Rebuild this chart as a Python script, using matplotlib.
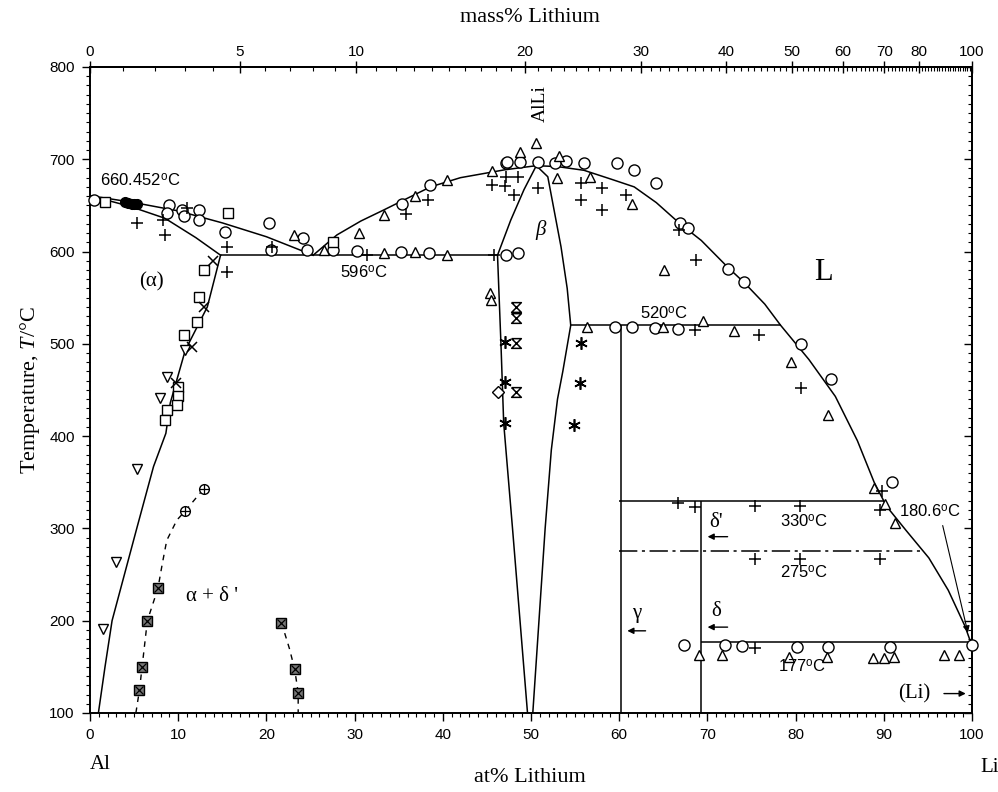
import numpy as np
import matplotlib
matplotlib.use("Agg")
import matplotlib.pyplot as plt
from matplotlib.ticker import MultipleLocator, FixedLocator, NullFormatter

plt.rcParams['font.family'] = ['Liberation Sans', 'DejaVu Sans']
plt.rcParams['mathtext.fontset'] = 'custom'
plt.rcParams['mathtext.rm'] = 'Liberation Serif'
plt.rcParams['mathtext.it'] = 'Liberation Serif:italic'
plt.rcParams['mathtext.sf'] = 'Liberation Sans'

SERIF = ['Liberation Serif', 'DejaVu Serif']

# phase boundaries (at% Li, temperature in C)
liq_al_x = [0, 5, 10, 15, 20, 25.3]
liq_al_t = [660.452, 653, 644, 631, 616, 596]
sol_al_x = [0, 4.5, 8.5, 12, 14.8]
sol_al_t = [660.452, 649, 636, 615, 596]
solvus_al_x = [14.8, 13.3, 10.8, 9.1, 8.6, 7.2, 5.3, 2.5, 1.7, 0.95]
solvus_al_t = [596, 540, 493, 436, 403, 367, 300, 200, 150, 100]
liq_mid_x = [25.3, 28, 30.7, 33.3, 35.2, 38.6, 42, 47, 50.6]
liq_mid_t = [596, 618, 633, 645, 654, 670, 680, 688.5, 693]
liq_li_x = [50.6, 53, 56, 59.2, 61.7, 64.2, 66.9, 69.3, 72.3, 74.2, 76.5, 78.3,
            81.5, 84.5, 87, 88.9, 90.3, 92.5, 95.1, 97.3, 99.2, 99.7]
liq_li_t = [693, 692, 688, 678, 670, 653, 630, 612, 583, 566, 543, 520,
            483, 443, 395, 350, 324, 298, 268, 233, 194, 180.6]
beta_left_x = [50.6, 49.2, 47.7, 46.2, 46.6, 46.9, 47.9, 49.6]
beta_left_t = [693, 667, 634, 596, 497, 414, 300, 100]
beta_right_x = [50.6, 51.9, 53.4, 54.1, 54.5, 53.6, 53.0, 52.3, 51.6, 50.9, 50.2]
beta_right_t = [693, 681, 605, 560, 520, 470, 440, 385, 300, 200, 100]
dash_left_x = [5.2, 5.6, 5.9, 6.5, 7.7, 8.2, 8.7, 9.85, 10.8, 12.9]
dash_left_t = [100, 124.5, 149.6, 200, 235, 262, 287, 309, 319, 343]
dash_right_x = [21.7, 22.6, 23.2, 23.6, 23.6]
dash_right_t = [198, 170, 147.5, 122, 100]

# invariant temperatures and their extent
eut_t, eut_x = 596, (14.8, 46.2)
per_t, per_x = 520, (54.5, 78.3)
g_t, g_x = 330, (60.0, 90.0)
dd_t, dd_x = 275, (60.0, 94.6)
li_t, li_x = 177, (69.3, 99.7)
gamma_x, delta_x = 60.2, 69.3

# experimental points
circ_x = [0.5, 8.9, 8.7, 10.4, 10.6, 12.3, 12.3, 15.3, 20.3, 20.5, 24.2, 24.6, 27.6,
          30.3, 35.3, 38.4, 47.2, 48.5, 35.4, 38.5, 47.2, 47.3, 48.7, 50.8, 52.7, 54,
          56, 59.8, 61.7, 64.2, 66.9, 67.8, 72.3, 74.2, 80.6, 84, 90.9, 59.5, 61.4,
          64, 66.7, 67.3, 72, 73.9, 80.2, 83.7, 90.7, 100]
circ_t = [656, 650.5, 642, 645, 638, 645, 634, 621.6, 631, 601.7, 614.4, 601.7, 601.7,
          601, 600, 598, 596, 598, 651.6, 672, 696, 697.4, 697.4, 697.4, 696.3, 698,
          696.3, 696.3, 688.4, 674, 630.7, 625, 581, 567.4, 499.9, 461.6, 350, 518.6, 518.6,
          517, 515.8, 174, 174, 173, 172, 172, 171.2, 174]
fcirc_x = [4.0, 4.3, 4.8, 5.0, 5.3]
fcirc_t = [654, 653, 652, 651.5, 651]
sq_x = [1.7, 15.7, 27.6, 12.9, 12.3, 12.1, 10.6, 10.0, 10.0, 9.85, 8.7, 8.5]
sq_t = [654, 641.5, 610.7, 580, 551, 524, 509.6, 453.6, 443, 434, 428.4, 417.6]
tri_x = [23.1, 26.5, 30.5, 33.3, 36.9, 40.5, 45.6, 33.3, 36.8, 40.5, 50.6, 48.7, 53.2,
         56.7, 53, 61.4, 65.1, 45.3, 45.5, 56.4, 65, 69.5, 73, 79.5, 83.7, 88.9, 90.1,
         91.3, 69, 71.7, 79.2, 83.5, 88.8, 90, 91.1, 96.8, 98.5]
tri_t = [618, 601.7, 620.5, 639.7, 660, 677.6, 687.6, 598, 600, 596, 717.3, 708, 703.6,
         681, 679.4, 652, 580, 554.8, 547.6, 518.6, 518.6, 525, 513.4, 480, 423, 344.2, 326.5,
         305.6, 163, 163, 161, 160.4, 159.4, 159.4, 161, 163, 163]
plus_x = [5.3, 8.5, 8.3, 11, 15.5, 15.5, 20.6, 31.4, 45.8, 35.8, 38.3, 45.6, 47.2, 47,
          48.5, 48.1, 50.8, 55.7, 55.7, 58, 58, 60.8, 66.8, 68.75, 68.6, 75.8, 80.6, 89.8,
          89.6, 66.7, 68.6, 75.4, 80.5, 75.4, 80.5, 89.6, 75.4]
plus_t = [630.5, 618, 634, 647, 605.3, 578, 605, 596, 596, 640.7, 655.9, 672, 681, 671,
          681, 661, 668.6, 674, 656, 668.6, 645, 661, 623.4, 591, 515, 509.6, 452, 340,
          320, 327, 323.6, 324, 324, 266.6, 266.6, 266.6, 170]
dtri_x = [8.7, 7.9, 5.3, 2.95, 1.5, 10.8]
dtri_t = [464.5, 441, 364, 263.4, 191, 493]
cross_x = [12.9, 11.6, 9.7, 13.9]
cross_t = [540, 497, 457, 590]
dia_x, dia_t = [46.2], [448]
ast_x = [47, 47, 47, 55.7, 55.5, 54.9]
ast_t = [502.4, 459, 414, 500.6, 457, 412]
bow_x = [48.3, 48.3, 48.3, 48.3]
bow_t = [540.3, 527.7, 500.6, 448]
xsq_x = [5.6, 5.9, 6.5, 7.7, 21.7, 23.2, 23.6]
xsq_t = [124.5, 149.6, 200, 235, 198, 147.5, 122]
cplus_x = [10.8, 12.9]
cplus_t = [319, 343]

mass_major = [0, 5, 10, 20, 30, 40, 50, 60, 70, 80, 100]
M_LI, M_AL = 6.941, 26.98


def at_to_mass(x):
    x = np.clip(np.asarray(x, dtype=float), 0, 100)
    return 100 * x * M_LI / (x * M_LI + (100 - x) * M_AL)


def mass_to_at(w):
    w = np.clip(np.asarray(w, dtype=float), 0, 100)
    return 100 * (w / M_LI) / (w / M_LI + (100 - w) / M_AL)


fig = plt.figure(figsize=(9.98, 7.92), dpi=100)
ax = fig.add_axes([0.0902, 0.0998, 0.8838, 0.8157])
ax.set_xlim(0, 100)
ax.set_ylim(100, 800)

lk = dict(color='black', lw=1.1)
for xs, ts in [(liq_al_x, liq_al_t), (sol_al_x, sol_al_t), (solvus_al_x, solvus_al_t),
               (liq_mid_x, liq_mid_t), (liq_li_x, liq_li_t),
               (beta_left_x, beta_left_t), (beta_right_x, beta_right_t)]:
    ax.plot(xs, ts, **lk)
ax.plot(dash_left_x, dash_left_t, color='black', lw=1.0, ls=(0, (4, 4)))
ax.plot(dash_right_x, dash_right_t, color='black', lw=1.0, ls=(0, (4, 4)))

ax.hlines(eut_t, *eut_x, **lk)
ax.hlines(per_t, *per_x, **lk)
ax.hlines(g_t, *g_x, **lk)
ax.hlines(dd_t, *dd_x, color='black', lw=1.1, ls=(0, (12, 3, 2, 3)))
ax.hlines(li_t, *li_x, **lk)
ax.vlines(gamma_x, 100, per_t, **lk)
ax.vlines(delta_x, 100, g_t, **lk)

mk = dict(ls='none', color='black', mfc='white', mew=1.0, clip_on=False, zorder=3)
ax.plot(circ_x, circ_t, marker='o', ms=8, **mk)
ax.plot(fcirc_x, fcirc_t, marker='o', ms=7, ls='none', color='black', zorder=3)
ax.plot(sq_x, sq_t, marker='s', ms=7, **mk)
ax.plot(tri_x, tri_t, marker='^', ms=7, **mk)
ax.plot(dtri_x, dtri_t, marker='v', ms=7, **mk)
ax.plot(dia_x, dia_t, marker='D', ms=6, **mk)
ax.plot(plus_x, plus_t, marker='+', ms=9, ls='none', color='black', mew=1.1, zorder=3)
ax.plot(cross_x, cross_t, marker='x', ms=7, ls='none', color='black', mew=1.1, zorder=3)
ax.plot(ast_x, ast_t, marker=(6, 2, 0), ms=9, ls='none', color='black', mew=1.2, zorder=3)
bowtie = [(-1, 1), (1, 1), (-1, -1), (1, -1), (-1, 1)]
ax.plot(bow_x, bow_t, marker=bowtie, ms=7, ls='none', color='black', mfc='white',
        mew=1.1, zorder=3)
ax.plot(xsq_x, xsq_t, marker='s', ms=7, ls='none', color='black', mfc='#777777',
        mew=1.0, zorder=3)
ax.plot(xsq_x, xsq_t, marker='x', ms=6, ls='none', color='black', mew=0.9, zorder=4)
ax.plot(cplus_x, cplus_t, marker='o', ms=7, ls='none', color='black', mfc='white',
        mew=1.0, zorder=3)
ax.plot(cplus_x, cplus_t, marker='+', ms=7, ls='none', color='black', mew=0.9, zorder=4)

# region and temperature labels
def deg(v):
    return v + r'$^{\mathsf{o}}$C'

tk = dict(fontsize=12, color='black')
ax.text(1.1, 677, deg('660.452'), ha='left', va='center', **tk)
ax.text(31.0, 577, deg('596'), ha='center', va='center', **tk)
ax.text(65.1, 533, deg('520'), ha='center', va='center', **tk)
ax.text(81.0, 307, deg('330'), ha='center', va='center', **tk)
ax.text(81.0, 252, deg('275'), ha='center', va='center', **tk)
ax.text(80.7, 150, deg('177'), ha='center', va='center', **tk)
ax.text(91.7, 318, deg('180.6'), ha='left', va='center', **tk)
ax.annotate('', xy=(99.6, 184), xytext=(96.6, 306),
            arrowprops=dict(arrowstyle='-|>', lw=0.8, color='black', mutation_scale=10))

sk = dict(family=SERIF, color='black')
ax.text(7.0, 567, '(α)', ha='center', va='center', fontsize=15, **sk)
ax.text(51.1, 623, 'β', ha='center', va='center', fontsize=15, style='italic', **sk)
ax.text(83.2, 577, 'L', ha='center', va='center', fontsize=22, **sk)
ax.text(51.0, 760, 'AlLi', ha='center', va='center', rotation=90, fontsize=14, **sk)
ax.text(13.8, 226, "α + δ '", ha='center', va='center', fontsize=15, **sk)
ax.text(71.0, 306, "δ'", ha='center', va='center', fontsize=15, **sk)
ax.text(71.0, 210, 'δ', ha='center', va='center', fontsize=15, **sk)
ax.text(62.0, 208, 'γ', ha='center', va='center', fontsize=15, **sk)
ax.text(93.5, 121, '(Li)', ha='center', va='center', fontsize=15, **sk)
ak = dict(arrowstyle='-|>', lw=1.0, color='black', mutation_scale=9)
ax.annotate('', xy=(69.7, 291), xytext=(72.6, 291), arrowprops=ak)
ax.annotate('', xy=(69.7, 193), xytext=(72.6, 193), arrowprops=ak)
ax.annotate('', xy=(60.6, 189), xytext=(63.3, 189), arrowprops=ak)
ax.annotate('', xy=(99.6, 121), xytext=(96.5, 121), arrowprops=ak)
ax.text(0, 44, 'Al', ha='left', va='center', fontsize=15, clip_on=False, **sk)
ax.text(101, 41, 'Li', ha='left', va='center', fontsize=15, clip_on=False, **sk)

# axes and ticks
ax.xaxis.set_major_locator(MultipleLocator(10))
ax.xaxis.set_minor_locator(MultipleLocator(1))
ax.yaxis.set_major_locator(MultipleLocator(100))
ax.yaxis.set_minor_locator(MultipleLocator(10))
ax.tick_params(axis='both', which='major', direction='out', length=6, width=1.0,
               labelsize=11, pad=5)
ax.tick_params(axis='both', which='minor', direction='out', length=3, width=0.8)
for s in ax.spines.values():
    s.set_linewidth(1.4)

right = ax.secondary_yaxis('right')
right.yaxis.set_major_locator(MultipleLocator(100))
right.yaxis.set_minor_locator(MultipleLocator(10))
right.yaxis.set_major_formatter(NullFormatter())
right.tick_params(which='major', direction='in', length=6, width=1.0)
right.tick_params(which='minor', direction='in', length=3, width=0.8)
right.spines['right'].set_linewidth(1.4)

top = ax.secondary_xaxis('top', functions=(at_to_mass, mass_to_at))
top.xaxis.set_major_locator(FixedLocator(mass_major))
top.xaxis.set_minor_locator(FixedLocator([m for m in range(0, 101)
                                          if m not in mass_major]))
top.tick_params(which='major', direction='inout', length=8, width=1.0, labelsize=11, pad=2)
top.tick_params(which='minor', direction='in', length=3, width=0.8)
top.spines['top'].set_linewidth(1.4)

fig.text(530 / 998, 1 - 18 / 792, 'mass% Lithium', ha='center', va='center',
         fontsize=16, family=SERIF)
fig.text(530 / 998, 1 - 777 / 792, 'at% Lithium', ha='center', va='center',
         fontsize=16, family=SERIF)
fig.text(30 / 998, 1 - 390 / 792, r'Temperature, $T$/°C', ha='center', va='center',
         rotation=90, fontsize=16, family=SERIF)

fig.savefig('out.png', dpi=100)
